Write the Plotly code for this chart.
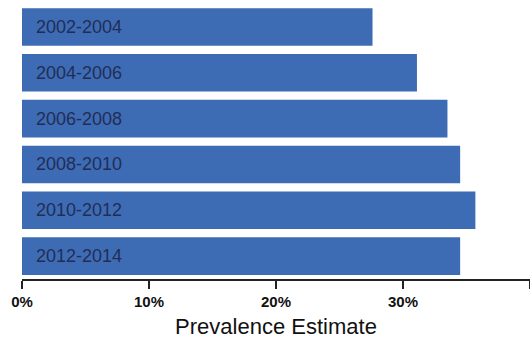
import plotly.graph_objects as go

periods = ["2002-2004", "2004-2006", "2006-2008", "2008-2010", "2010-2012", "2012-2014"]
prevalence = [0.276, 0.311, 0.335, 0.345, 0.357, 0.345]
tick_vals = [0, 0.1, 0.2, 0.3, 0.4]
tick_text = ["0%", "10%", "20%", "30%", ""]

fig = go.Figure()
fig.add_trace(go.Bar(
    x=prevalence, y=periods, orientation="h",
    marker=dict(color="#3d6cb5", line=dict(width=0)),
    hoverinfo="skip",
))

for p in periods:
    fig.add_annotation(x=0, y=p, text=p, xref="x", yref="y", xanchor="left",
                       xshift=12, showarrow=False,
                       font=dict(family="Arial, Liberation Sans", size=18, color="#222d55"))

fig.update_layout(
    width=530, height=341,
    margin=dict(l=22, r=0, t=4, b=62, autoexpand=False),
    paper_bgcolor="white", plot_bgcolor="white",
    bargap=0.18, showlegend=False,
    xaxis=dict(range=[0, 0.4], tickvals=tick_vals, ticktext=tick_text, automargin=False,
               showgrid=False, zeroline=False, showline=True, linecolor="#222",
               linewidth=2, ticks="outside", ticklen=8, tickwidth=2, tickcolor="#222",
               tickfont=dict(family="Arial, Liberation Sans", size=15, color="#111", weight="bold"),
               title=dict(text="Prevalence Estimate", standoff=10,
                          font=dict(family="Arial, Liberation Sans", size=22, color="#111"))),
    yaxis=dict(autorange="reversed", showticklabels=False, showgrid=False, automargin=False,
               zeroline=False, showline=False, ticks=""),
)

fig.write_html("out.html", config={"displayModeBar": False},
               post_script="document.body.style.margin='0';document.body.style.overflow='hidden';")
